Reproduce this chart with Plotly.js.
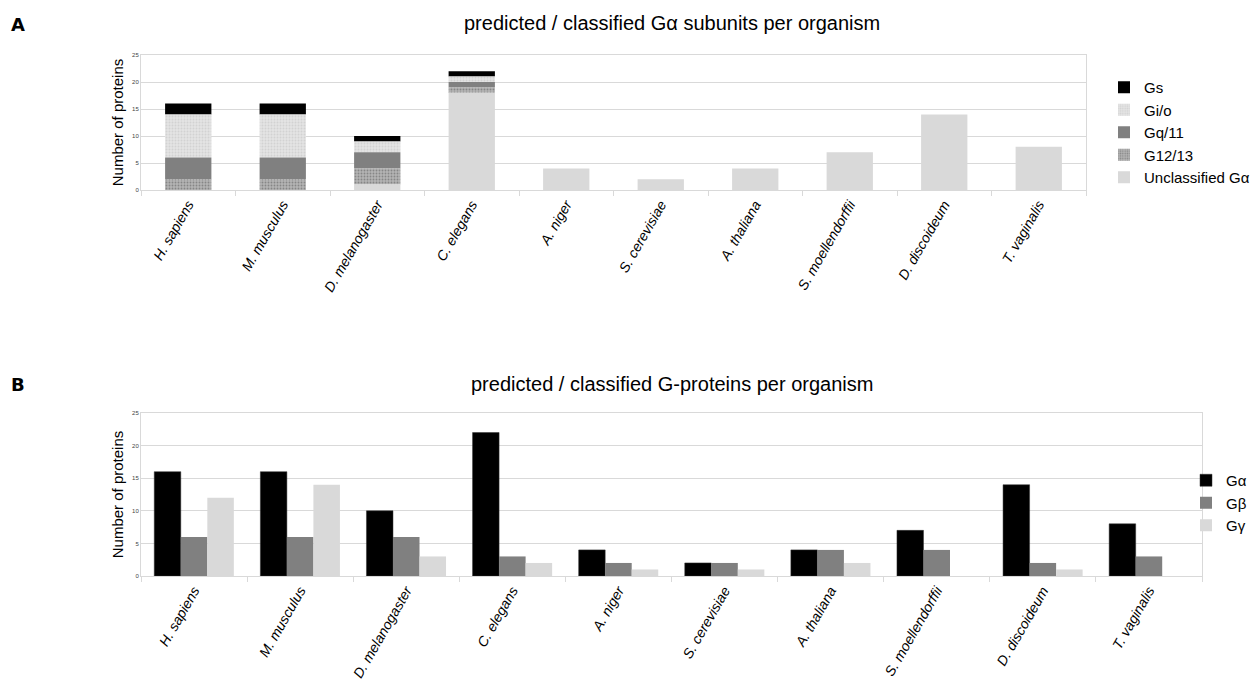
<!DOCTYPE html>
<html>
<head>
<meta charset="utf-8">
<script src="https://cdn.plot.ly/plotly-3.0.1.min.js"></script>
<style>html,body{margin:0;padding:0;background:#fff;}#chart{width:1253px;height:681px;}</style>
</head>
<body>
<div id="chart"></div>
<script>
var organisms = ["H. sapiens", "M. musculus", "D. melanogaster", "C. elegans", "A. niger",
  "S. cerevisiae", "A. thaliana", "S. moellendorffii", "D. discoideum", "T. vaginalis"];

// Panel A: G-alpha subunit classes (stacked)
var gs           = [2, 2, 1, 1, 0, 0, 0, 0, 0, 0];
var gio          = [8, 8, 2, 1, 0, 0, 0, 0, 0, 0];
var gq11         = [4, 4, 3, 1, 0, 0, 0, 0, 0, 0];
var g1213        = [2, 2, 3, 1, 0, 0, 0, 0, 0, 0];
var unclassified = [0, 0, 1, 18, 4, 2, 4, 7, 14, 8];

// Panel B: G-protein subunits (grouped)
var galpha = [16, 16, 10, 22, 4, 2, 4, 7, 14, 8];
var gbeta  = [6, 6, 6, 3, 2, 2, 4, 4, 2, 3];
var ggamma = [12, 14, 3, 2, 1, 1, 2, 0, 1, 0];

function addArr(a, b) { return a.map(function (v, i) { return v + b[i]; }); }
var base1213 = unclassified.slice();
var baseGq = addArr(base1213, g1213);
var baseGio = addArr(baseGq, gq11);
var baseGs = addArr(baseGio, gio);
var zeros = organisms.map(function () { return 0; });

var W = 1253, H = 681;
var wA = 0.49;
var wB = 0.25;

var traces = [
  {type: 'bar', name: 'Gs', x: organisms, y: gs, base: baseGs, width: wA, xaxis: 'x', yaxis: 'y',
   marker: {color: '#000000', line: {width: 0}}, legend: 'legend', legendgroup: 'a1'},
  {type: 'bar', name: 'Gi/o', x: organisms, y: gio, base: baseGio, width: wA, xaxis: 'x', yaxis: 'y',
   marker: {color: '#e2e2e2', line: {width: 0},
            pattern: {shape: '.', fgcolor: '#d2d2d2', bgcolor: '#e4e4e4', size: 3, solidity: 0.3}},
   legend: 'legend', legendgroup: 'a2'},
  {type: 'bar', name: 'Gq/11', x: organisms, y: gq11, base: baseGq, width: wA, xaxis: 'x', yaxis: 'y',
   marker: {color: '#808080', line: {width: 0}}, legend: 'legend', legendgroup: 'a3'},
  {type: 'bar', name: 'G12/13', x: organisms, y: g1213, base: base1213, width: wA, xaxis: 'x', yaxis: 'y',
   marker: {color: '#a0a0a0', line: {width: 0},
            pattern: {shape: '.', fgcolor: '#868686', bgcolor: '#b4b4b4', size: 3, solidity: 0.3}},
   legend: 'legend', legendgroup: 'a4'},
  {type: 'bar', name: 'Unclassified Gα', x: organisms, y: unclassified, base: zeros, width: wA, xaxis: 'x', yaxis: 'y',
   marker: {color: '#d9d9d9', line: {width: 0}}, legend: 'legend', legendgroup: 'a5'},

  {type: 'bar', name: 'Gα', x: organisms, y: galpha, width: wB, offset: -1.5 * wB, xaxis: 'x2', yaxis: 'y2',
   marker: {color: '#000000', line: {width: 0.5, color: '#333'}}, legend: 'legend2', legendgroup: 'b1'},
  {type: 'bar', name: 'Gβ', x: organisms, y: gbeta, width: wB, offset: -0.5 * wB, xaxis: 'x2', yaxis: 'y2',
   marker: {color: '#808080', line: {width: 0}}, legend: 'legend2', legendgroup: 'b2'},
  {type: 'bar', name: 'Gγ', x: organisms, y: ggamma, width: wB, offset: 0.5 * wB, xaxis: 'x2', yaxis: 'y2',
   marker: {color: '#d9d9d9', line: {width: 0}}, legend: 'legend2', legendgroup: 'b3'}
];

var font = 'Liberation Sans, Arial, sans-serif';
var gridc = '#d9d9d9';

function xax(domain, anchor) {
  return {
    domain: domain, anchor: anchor, type: 'category', tickangle: -60,
    tickfont: {family: font, size: 14, style: 'italic', color: '#000'},
    showline: true, linecolor: gridc, mirror: true, linewidth: 1,
    tickson: 'boundaries', ticks: 'outside', ticklen: 5, tickcolor: gridc,
    showgrid: false, fixedrange: true, range: [-0.5, 9.5]
  };
}
function yax(domain, anchor) {
  return {
    domain: domain, anchor: anchor, range: [0, 25], dtick: 5,
    tickfont: {family: font, size: 6, color: '#444'},
    showline: true, linecolor: gridc, mirror: true, linewidth: 1,
    showgrid: true, gridcolor: gridc, gridwidth: 1, zeroline: false,
    ticks: '', fixedrange: true,
    title: {text: 'Number of proteins', font: {family: font, size: 15, color: '#000'}, standoff: 4}
  };
}

var layout = {
  width: W, height: H,
  margin: {l: 0, r: 0, t: 0, b: 0, autoexpand: false},
  paper_bgcolor: '#fff', plot_bgcolor: '#fff',
  barmode: 'overlay',
  font: {family: font},
  xaxis: xax([141 / W, 1086 / W], 'y'),
  yaxis: yax([1 - 190 / H, 1 - 55 / H], 'x'),
  xaxis2: xax([141 / W, 1202 / W], 'y2'),
  yaxis2: yax([1 - 576 / H, 1 - 413 / H], 'x2'),
  legend: {x: 1104 / W, y: 1 - 71 / H, xanchor: 'left', yanchor: 'top',
    font: {family: font, size: 15, color: '#000'}, bgcolor: 'rgba(0,0,0,0)',
    tracegroupgap: 3, traceorder: 'normal', itemclick: false},
  legend2: {x: 1186 / W, y: 1 - 464 / H, xanchor: 'left', yanchor: 'top',
    font: {family: font, size: 15, color: '#000'}, bgcolor: 'rgba(0,0,0,0)',
    tracegroupgap: 4, traceorder: 'normal', itemclick: false},
  annotations: [
    {text: 'predicted / classified Gα subunits per organism', x: 672 / W, y: 1 - 23 / H, yanchor: 'middle',
     xref: 'paper', yref: 'paper', showarrow: false, font: {family: font, size: 20, color: '#000'}},
    {text: 'predicted / classified G-proteins per organism', x: 672 / W, y: 1 - 384 / H, yanchor: 'middle',
     xref: 'paper', yref: 'paper', showarrow: false, font: {family: font, size: 20, color: '#000'}},
    {text: '<b>A</b>', x: 9 / W, y: 1 - 24 / H, xanchor: 'left', yanchor: 'middle', xref: 'paper', yref: 'paper',
     showarrow: false, font: {family: 'DejaVu Sans, Arial', size: 18, color: '#000'}},
    {text: '<b>B</b>', x: 9 / W, y: 1 - 385 / H, xanchor: 'left', yanchor: 'middle', xref: 'paper', yref: 'paper',
     showarrow: false, font: {family: 'DejaVu Sans, Arial', size: 18, color: '#000'}}
  ]
};

Plotly.newPlot('chart', traces, layout, {displayModeBar: false, staticPlot: true});
</script>
</body>
</html>
